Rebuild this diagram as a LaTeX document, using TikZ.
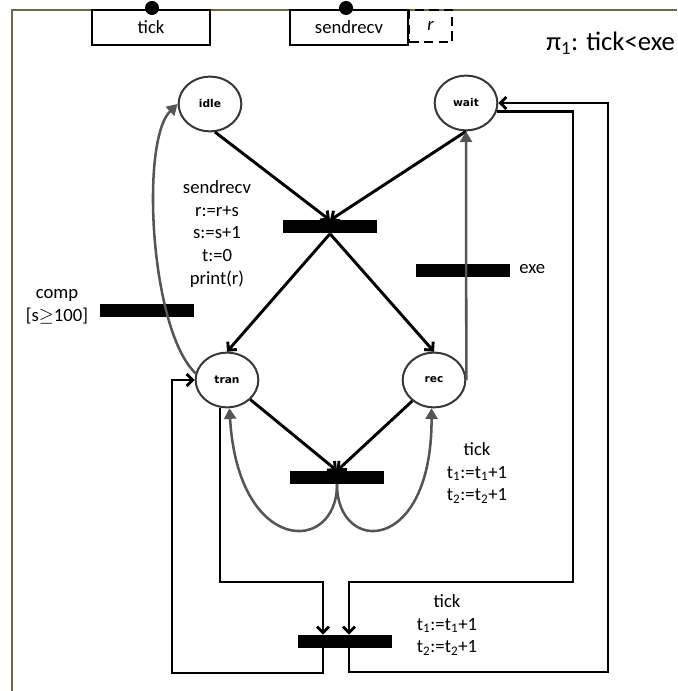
\documentclass[tikz,border=0pt]{standalone}
\usepackage{fontspec}
\setmainfont{Carlito}
\newfontfamily\placefont{DejaVu Sans}
\usetikzlibrary{shapes.geometric,arrows.meta}
\definecolor{framecol}{RGB}{112,102,72}
\definecolor{arcgray}{RGB}{85,85,85}
\definecolor{placecol}{RGB}{55,55,55}
\begin{document}
\begin{tikzpicture}[x=0.75pt,y=-0.75pt,
  place/.style={ellipse, draw=placecol, line width=1.5pt, minimum width=47pt, minimum height=41pt, inner sep=0pt, font=\placefont\bfseries\fontsize{8}{9}\selectfont},
  trans/.style={rectangle, fill=black, minimum width=70.5pt, minimum height=9.75pt, inner sep=0pt},
  blk/.style={draw=black, line width=2.2pt, -{Straight Barb[length=4.5pt,width=9pt]}},
  gry/.style={draw=arcgray, line width=1.9pt, -{Triangle[length=8pt,width=9pt]}},
  lab/.style={font=\fontsize{14}{17}\selectfont, align=center, inner sep=0pt},
  topbox/.style={rectangle, draw=black, line width=1.5pt, minimum width=88.5pt, minimum height=26.25pt, inner sep=0pt, font=\fontsize{14}{17}\selectfont},
  dot/.style={circle, fill=black, minimum size=10.5pt, inner sep=0pt}
]
\useasboundingbox (0,0) rectangle (677,691);
% frame
\draw[framecol, line width=1.5pt] (12,691) -- (12,10) -- (677,10);

% top boxes
\node[topbox] (tickbox) at (151,27.5) {tick};
\node[topbox] (srbox) at (349,27.5) {sendrecv};
\node[rectangle, draw=black, line width=1.5pt, dash pattern=on 7pt off 4pt, minimum width=32pt, minimum height=24pt, inner sep=0pt, font=\fontsize{14}{17}\selectfont\itshape] (rbox) at (430.5,26) {r};
\node[dot] (tickdot) at (152,8) {};
\node[dot] (srdot) at (346,8) {};
\node[anchor=west, inner sep=0pt, font=\fontsize{20}{22}\selectfont] (pi) at (546,43) {π\textsubscript{1}: tick<exe};

% places
\node[place] (idle) at (210,104) {idle};
\node[place] (wait) at (466,103) {wait};
\node[place] (tran) at (227,380) {tran};
\node[place] (rec) at (434,380) {rec};

% transitions
\node[trans] (T1) at (330,227) {};
\node[trans] (exe) at (463,270.5) {};
\node[trans] (comp) at (147,310) {};
\node[trans] (tick1) at (337,477.5) {};
\node[trans] (tick2) at (344.5,641.5) {};

% labels
\node[lab] (srlab) at (217,234) {sendrecv\\r:=r+s\\s:=s+1\\t:=0\\print(r)};
\node[lab] (complab) at (57,307) {comp\\\relax[s$\geq$100]};
\node[lab, anchor=west] (exelab) at (519,269) {exe};
\node[lab] (t1lab) at (477,473) {tick\\t\textsubscript{1}:=t\textsubscript{1}+1\\t\textsubscript{2}:=t\textsubscript{2}+1};
\node[lab] (t2lab) at (447,625) {tick\\t\textsubscript{1}:=t\textsubscript{1}+1\\t\textsubscript{2}:=t\textsubscript{2}+1};

% black arcs
\draw[blk] (idle.-80) -- (T1.north);
\draw[blk] (wait.south) -- (T1.north);
\draw[blk] (T1.south) -- (tran.north);
\draw[blk] (T1.south) -- (rec.north);
\draw[blk] (tran.-40) -- (tick1.north);
\draw[blk] (rec.-136) -- (tick1.north);

% gray arcs
\draw[gry] (rec.east) -- (wait.south);
\draw[gry] (tran.168) .. controls (150,330) and (140,140) .. (idle.west);
\draw[gry] (tick1.south) .. controls (337,555) and (238,555) .. (tran.-85);
\draw[gry] (tick1.south) .. controls (337,555) and (432,555) .. (rec.-95);

% rectilinear arcs
\coordinate (L1) at (323,673);
\coordinate (L2) at (172,673);
\draw[blk] (L1 |- tick2.south) -- (L1) -- (L2) |- (tran.west);
\coordinate (I1) at (220,582);
\coordinate (I2) at (323,582);
\draw[blk] (I1 |- tran.south) -- (I1) -- (I2) -- (I2 |- tick2.north);
\coordinate (R1) at (573,582);
\coordinate (R2) at (349,582);
\draw[blk] (wait.-15) -- (wait.-15 -| R1) -- (R1) -- (R2) -- (R2 |- tick2.north);
\coordinate (O1) at (349,672);
\coordinate (O2) at (608,672);
\draw[blk] (O1 |- tick2.south) -- (O1) -- (O2) |- (wait.east);
\end{tikzpicture}
\end{document}
